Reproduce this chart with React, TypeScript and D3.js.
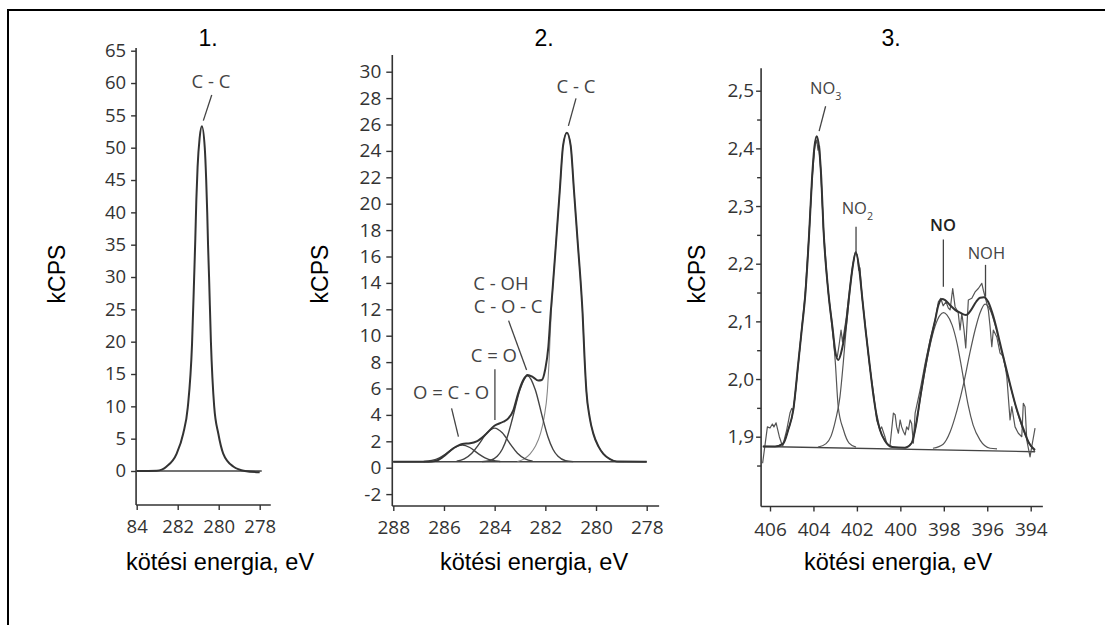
import { useEffect, useRef } from "react";
import * as d3 from "d3";

type Pt = [number, number];

// ---------- panel 1: single C-C peak ----------
const p1XTicks = [284, 282, 280, 278];
const p1XLabels = ["84", "282", "280", "278"];
const p1YTicks = [0, 5, 10, 15, 20, 25, 30, 35, 40, 45, 50, 55, 60, 65];
const p1XExtent = [284.03, 277.46];
const p1YExtent = [-5.26, 65.4];
const p1Baseline: Pt[] = [[284.0, 0], [277.9, 0]];
const p1CC: Pt[] = [
  [284.0, 0], [283.02, 0.05], [282.54, 0.7], [282.05, 2.7], [281.73, 5.8], [281.51, 9.8],
  [281.3, 19.7], [281.2, 29.7], [281.14, 36], [281.09, 42], [281.03, 47], [280.93, 51.5],
  [280.82, 53.3], [280.68, 50], [280.61, 45], [280.56, 40], [280.52, 35], [280.47, 30],
  [280.38, 20], [280.22, 10], [280.02, 5.8], [279.78, 2.7], [279.29, 0.7], [278.72, 0], [278.0, -0.2],
];

// ---------- panel 2: C 1s with four components ----------
const p2XTicks = [288, 286, 284, 282, 280, 278];
const p2YTicks = [-2, 0, 2, 4, 6, 8, 10, 12, 14, 16, 18, 20, 22, 24, 26, 28, 30];
const p2XExtent = [288.04, 277.51];
const p2YExtent = [-2.9, 31.27];
const p2Baseline: Pt[] = [[288.04, 0.45], [278.0, 0.45]];
const p2OCO: Pt[] = [
  [286.8, 0.47], [286.48, 0.55], [286.18, 0.75], [285.9, 1.08], [285.58, 1.53], [285.28, 1.72],
  [284.98, 1.53], [284.66, 1.08], [284.38, 0.75], [284.08, 0.55], [283.78, 0.47],
];
const p2CO: Pt[] = [
  [285.5, 0.5], [285.2, 0.67], [284.9, 1.09], [284.64, 1.73], [284.3, 2.64], [284.0, 3.0],
  [283.7, 2.64], [283.36, 1.73], [283.1, 1.09], [282.8, 0.67], [282.5, 0.5],
];
const p2COH: Pt[] = [
  [284.5, 0.46], [284.2, 0.53], [283.9, 0.86], [283.7, 1.4], [283.5, 2.35], [283.3, 3.71],
  [283.0, 5.93], [282.7, 6.97], [282.4, 5.93], [282.1, 3.71], [281.9, 2.35], [281.7, 1.4],
  [281.5, 0.86], [281.2, 0.53], [280.9, 0.46],
];
const p2CC: Pt[] = [
  [283.1, 0.47], [282.85, 0.65], [282.6, 1.05], [282.4, 1.6], [282.19, 2.6], [282.05, 3.8],
  [281.92, 5.8], [281.85, 8.2], [281.77, 11.7], [281.71, 13.6], [281.58, 17.0], [281.43, 21.0],
  [281.3, 24.4], [281.15, 25.38], [281.0, 24.4], [280.87, 21.0], [280.72, 17.0], [280.59, 13.6],
  [280.53, 11.7], [280.45, 8.2], [280.38, 5.8], [280.25, 3.8], [280.11, 2.6], [279.9, 1.6],
  [279.71, 1.05], [279.45, 0.65], [279.18, 0.47], [278.9, 0.45],
];
const p2Envelope: Pt[] = [
  [288.0, 0.45], [286.6, 0.45], [286.35, 0.5], [286.03, 0.83], [285.63, 1.47], [285.28, 1.8],
  [284.97, 1.85], [284.71, 2.0], [284.38, 2.48], [284.01, 3.18], [283.66, 3.48], [283.46, 3.74],
  [283.26, 4.37], [283.07, 5.64], [282.87, 6.64], [282.7, 7.02], [282.48, 6.85], [282.28, 6.6],
  [282.14, 6.64], [282.01, 7.4], [281.88, 9.17], [281.79, 11.7], [281.71, 13.6], [281.58, 17.0],
  [281.43, 21.0], [281.3, 24.4], [281.15, 25.38], [281.0, 24.4], [280.87, 21.0], [280.72, 17.0],
  [280.59, 13.6], [280.53, 11.7], [280.45, 8.2], [280.38, 5.8], [280.25, 3.8], [280.11, 2.6],
  [279.9, 1.6], [279.71, 1.05], [279.45, 0.65], [279.18, 0.47], [278.0, 0.45],
];

// ---------- panel 3: N 1s ----------
const p3XTicks = [406, 404, 402, 400, 398, 396, 394];
const p3YTicks = [1.9, 2.0, 2.1, 2.2, 2.3, 2.4, 2.5];
const p3YLabels = ["1,9", "2,0", "2,1", "2,2", "2,3", "2,4", "2,5"];
const p3YMinor = [1.85, 1.95, 2.05, 2.15, 2.25, 2.35, 2.45];
const p3XExtent = [406.41, 393.44];
const p3YExtent = [1.779, 2.539];
const p3Baseline: Pt[] = [[406.34, 1.883], [393.8, 1.874]];
const p3NO3: Pt[] = [
  [405.72, 1.883], [405.39, 1.889], [405.16, 1.912], [404.93, 1.946], [404.7, 2.027], [404.54, 2.085],
  [404.37, 2.149], [404.19, 2.258], [404.07, 2.345], [403.96, 2.397], [403.85, 2.42], [403.74, 2.397],
  [403.64, 2.345], [403.54, 2.258], [403.31, 2.149], [403.11, 2.085], [402.99, 2.027], [402.86, 1.952],
  [402.62, 1.912], [402.36, 1.889], [402.04, 1.882],
];
const p3NO2: Pt[] = [
  [403.79, 1.882], [403.42, 1.888], [403.19, 1.901], [402.98, 1.929], [402.78, 1.969], [402.63, 2.027],
  [402.5, 2.085], [402.35, 2.143], [402.2, 2.193], [402.05, 2.219], [401.9, 2.193], [401.76, 2.143],
  [401.6, 2.085], [401.42, 2.027], [401.23, 1.969], [401.1, 1.938], [400.94, 1.912], [400.71, 1.893],
  [400.34, 1.882],
];
const p3NO: Pt[] = [
  [399.78, 1.881], [399.48, 1.889], [399.28, 1.92], [399.09, 1.964], [398.86, 2.016], [398.63, 2.059],
  [398.4, 2.092], [398.17, 2.111], [398.01, 2.115], [397.85, 2.111], [397.62, 2.094], [397.39, 2.062],
  [397.21, 2.026], [397.07, 1.995], [396.88, 1.955], [396.65, 1.92], [396.33, 1.894], [395.87, 1.88],
  [395.55, 1.879],
];
const p3NOH: Pt[] = [
  [398.5, 1.88], [398.03, 1.887], [397.71, 1.908], [397.39, 1.946], [397.07, 1.995], [396.79, 2.047],
  [396.56, 2.085], [396.33, 2.115], [396.1, 2.13], [395.87, 2.12], [395.64, 2.094], [395.41, 2.059],
  [395.18, 2.023], [394.95, 1.99], [394.67, 1.95], [394.35, 1.912], [394.03, 1.886], [393.8, 1.874],
];
const p3Envelope: Pt[] = [
  [406.32, 1.883], [405.77, 1.883], [405.39, 1.888], [405.16, 1.912], [404.93, 1.946], [404.7, 2.027],
  [404.54, 2.085], [404.37, 2.149], [404.19, 2.258], [404.07, 2.345], [403.96, 2.401], [403.85, 2.421],
  [403.74, 2.401], [403.64, 2.349], [403.54, 2.262], [403.31, 2.149], [403.11, 2.085], [402.99, 2.047],
  [402.86, 2.033], [402.73, 2.045], [402.63, 2.062], [402.5, 2.094], [402.35, 2.147], [402.2, 2.193],
  [402.05, 2.22], [401.9, 2.193], [401.76, 2.143], [401.6, 2.085], [401.42, 2.027], [401.23, 1.969],
  [401.1, 1.938], [400.94, 1.912], [400.71, 1.893], [400.38, 1.882], [399.78, 1.881], [399.48, 1.889],
  [399.28, 1.92], [399.09, 1.967], [398.86, 2.019], [398.63, 2.064], [398.4, 2.102], [398.25, 2.128],
  [398.09, 2.139], [397.94, 2.137], [397.71, 2.128], [397.48, 2.12], [397.25, 2.115], [396.98, 2.111],
  [396.74, 2.12], [396.51, 2.134], [396.33, 2.141], [396.15, 2.142], [395.96, 2.134], [395.78, 2.116],
  [395.6, 2.092], [395.41, 2.062], [395.18, 2.026], [394.95, 1.991], [394.67, 1.951], [394.35, 1.915],
  [394.08, 1.889], [393.8, 1.877],
];
const p3Raw: Pt[] = [
  [406.34, 1.854], [406.12, 1.917], [406.0, 1.915], [405.89, 1.922], [405.82, 1.917], [405.72, 1.924],
  [405.57, 1.9], [405.42, 1.883], [405.23, 1.912], [405.08, 1.941], [405.0, 1.949], [404.93, 1.946],
  [404.85, 1.969], [404.7, 2.024], [404.54, 2.088], [404.39, 2.144], [404.2, 2.253], [404.07, 2.342],
  [403.94, 2.404], [403.85, 2.414], [403.79, 2.397], [403.72, 2.404], [403.64, 2.342], [403.53, 2.255],
  [403.33, 2.154], [403.15, 2.092], [403.01, 2.042], [402.9, 2.039], [402.82, 2.059], [402.73, 2.085],
  [402.66, 2.064], [402.49, 2.106], [402.35, 2.151], [402.2, 2.196], [402.07, 2.22], [401.98, 2.215],
  [401.92, 2.189], [401.86, 2.193], [401.76, 2.141], [401.6, 2.088], [401.42, 2.024], [401.23, 1.974],
  [401.09, 1.929], [400.94, 1.912], [400.86, 1.917], [400.71, 1.9], [400.63, 1.889], [400.48, 1.883],
  [400.32, 1.941], [400.24, 1.938], [400.17, 1.917], [400.09, 1.906], [400.01, 1.929], [399.94, 1.917],
  [399.86, 1.909], [399.78, 1.903], [399.71, 1.917], [399.63, 1.912], [399.55, 1.929], [399.48, 1.923],
  [399.4, 1.889], [399.32, 1.941], [399.09, 1.981], [398.86, 2.027], [398.63, 2.068], [398.4, 2.102],
  [398.25, 2.134], [398.14, 2.14], [398.03, 2.127], [397.9, 2.134], [397.79, 2.123], [397.71, 2.12],
  [397.59, 2.157], [397.48, 2.125], [397.34, 2.116], [397.25, 2.085], [397.17, 2.114], [397.07, 2.085],
  [396.99, 2.054], [396.87, 2.137], [396.71, 2.14], [396.56, 2.151], [396.41, 2.157], [396.25, 2.166],
  [396.18, 2.154], [396.06, 2.137], [395.95, 2.12], [395.87, 2.091], [395.79, 2.056], [395.72, 2.085],
  [395.56, 2.073], [395.41, 2.045], [395.26, 2.039], [395.18, 2.023], [395.1, 2.004], [394.95, 1.929],
  [394.87, 1.952], [394.72, 1.917], [394.57, 1.906], [394.41, 1.9], [394.34, 1.958], [394.26, 1.952],
  [394.18, 1.894], [394.03, 1.865], [393.95, 1.883], [393.8, 1.915],
];

// peak annotations, anchored in data units
type Note = { text: string; sub?: string; strong?: boolean; at: Pt; leader: Pt[] };
const p1Notes: Note[] = [
  { text: "C - C", at: [280.38, 59.19], leader: [[280.34, 58.15], [280.75, 54.18]] },
];
const p2Notes: Note[] = [
  { text: "C - C", at: [280.79, 28.36], leader: [[280.79, 27.98], [281.09, 25.89]] },
  { text: "C - OH", at: [283.75, 13.46], leader: [] },
  { text: "C - O - C", at: [283.47, 11.7], leader: [[283.45, 11.14], [282.74, 7.4]] },
  { text: "C = O", at: [284.03, 8.03], leader: [[283.99, 7.45], [283.99, 3.61]] },
  { text: "O = C - O", at: [285.72, 5.2], leader: [[285.7, 4.5], [285.43, 2.35]] },
];
const p3Notes: Note[] = [
  { text: "NO", sub: "3", at: [404.16, 2.495], leader: [[403.44, 2.473], [403.74, 2.43]] },
  { text: "NO", sub: "2", at: [402.7, 2.287], leader: [[402.04, 2.264], [402.04, 2.218]] },
  { text: "NO", strong: true, at: [398.63, 2.257], leader: [[398.02, 2.242], [398.02, 2.16]] },
  { text: "NOH", at: [396.9, 2.209], leader: [[396.08, 2.198], [396.08, 2.143]] },
];

const TICK_FONT = "'Open Sans', 'Noto Sans', sans-serif";
const LABEL_FONT = "Arial, 'Liberation Sans', sans-serif";
const INK = "#333";

type Scale = d3.ScaleLinear<number, number>;

export default function App() {
  const svgRef = useRef<SVGSVGElement>(null);

  useEffect(() => {
    const svg = d3.select(svgRef.current!);
    svg.selectAll("*").remove();

    // page frame (left and top edges)
    svg.append("path").attr("d", "M8,625V10H1105").attr("fill", "none").attr("stroke", "#000").attr("stroke-width", 2);

    const axes = (
      x: Scale, y: Scale, xExt: number[], yExt: number[],
      xTicks: number[], xLabels: string[], yTicks: number[], yLabels: string[],
      o: { ySize: number; yPad: number; xSize: number; xBase: number; fs: number; minor?: number[] }
    ) => {
      const g = svg.append("g").attr("color", INK);
      const x0 = x(xExt[0]);
      const y0 = y(yExt[0]);
      const ya = d3.axisLeft(y).tickValues(yTicks).tickSize(o.ySize).tickPadding(o.yPad)
        .tickFormat((_d, i) => yLabels[i]);
      const gy = g.append("g").attr("transform", `translate(${x0},0)`).call(ya);
      gy.select(".domain").remove();
      if (o.minor) {
        const gm = g.append("g").attr("transform", `translate(${x0},0)`)
          .call(d3.axisLeft(y).tickValues(o.minor).tickSize(4).tickFormat(() => ""));
        gm.select(".domain").remove();
      }
      const xa = d3.axisBottom(x).tickValues(xTicks).tickSize(o.xSize).tickFormat((_d, i) => xLabels[i]);
      const gx = g.append("g").attr("transform", `translate(0,${y0})`).call(xa);
      gx.select(".domain").remove();
      gx.selectAll("text").attr("y", o.xBase).attr("dy", null);
      g.selectAll(".tick line").attr("stroke-width", 1.4);
      g.selectAll("text").attr("font-family", TICK_FONT).attr("font-size", o.fs).attr("fill", INK);
      g.append("line").attr("x1", x0).attr("x2", x0).attr("y1", y(yExt[0])).attr("y2", y(yExt[1]))
        .attr("stroke", INK).attr("stroke-width", 1.6);
      g.append("line").attr("x1", x0).attr("x2", x(xExt[1])).attr("y1", y0).attr("y2", y0)
        .attr("stroke", INK).attr("stroke-width", 1.6);
    };

    const curve = (x: Scale, y: Scale, pts: Pt[], color: string, w: number, smooth = true) => {
      const line = d3.line<Pt>().x((d) => x(d[0])).y((d) => y(d[1]))
        .curve(smooth ? d3.curveMonotoneX : d3.curveLinear);
      svg.append("path").attr("d", line(pts)).attr("fill", "none").attr("stroke", color)
        .attr("stroke-width", w).attr("stroke-linejoin", "round");
    };

    const notes = (x: Scale, y: Scale, list: Note[], fs: number, anchor: string) => {
      list.forEach((n) => {
        if (n.leader.length) {
          svg.append("line").attr("x1", x(n.leader[0][0])).attr("y1", y(n.leader[0][1]))
            .attr("x2", x(n.leader[1][0])).attr("y2", y(n.leader[1][1]))
            .attr("stroke", "#444").attr("stroke-width", 1.3);
        }
        const t = svg.append("text").attr("x", x(n.at[0])).attr("y", y(n.at[1]))
          .attr("text-anchor", anchor).attr("font-family", TICK_FONT).attr("font-size", fs)
          .attr("font-weight", n.strong ? 600 : 400)
          .attr("fill", n.strong ? "#222" : "#444").text(n.text);
        if (n.sub) t.append("tspan").attr("font-size", fs * 0.65).attr("dy", 6).text(n.sub);
      });
    };

    const labels = (title: string, tx: number, kx: number, ex: number) => {
      svg.append("text").attr("x", tx).attr("y", 46).attr("text-anchor", "middle")
        .attr("font-family", LABEL_FONT).attr("font-size", 23).text(title);
      svg.append("text").attr("transform", `translate(${kx},274) rotate(-90)`).attr("text-anchor", "middle")
        .attr("font-family", LABEL_FONT).attr("font-size", 23).text("kCPS");
      svg.append("text").attr("x", ex).attr("y", 570).attr("text-anchor", "middle")
        .attr("font-family", LABEL_FONT).attr("font-size", 23.5).text("kötési energia, eV");
    };

    // panel 1
    const x1 = d3.scaleLinear().domain([284, 278]).range([136.7, 259.7]);
    const y1 = d3.scaleLinear().domain([0, 65]).range([471, 50.7]);
    axes(x1, y1, p1XExtent, p1YExtent, p1XTicks, p1XLabels, p1YTicks, p1YTicks.map(String),
      { ySize: 5, yPad: 5, xSize: 5, xBase: 27.7, fs: 18.5 });
    curve(x1, y1, p1Baseline, "#444", 1.4, false);
    curve(x1, y1, p1CC, "#333", 2);
    notes(x1, y1, p1Notes, 18.5, "middle");
    labels("1.", 208, 65, 220);

    // panel 2
    const x2 = d3.scaleLinear().domain([288, 278]).range([393.3, 646.7]);
    const y2 = d3.scaleLinear().domain([0, 30]).range([467.7, 71.7]);
    axes(x2, y2, p2XExtent, p2YExtent, p2XTicks, p2XTicks.map(String), p2YTicks, p2YTicks.map(String),
      { ySize: 6, yPad: 5, xSize: 5, xBase: 28, fs: 19 });
    curve(x2, y2, p2Baseline, "#444", 1.4, false);
    curve(x2, y2, p2CC, "#888", 1.1);
    curve(x2, y2, p2OCO, "#444", 1.4);
    curve(x2, y2, p2CO, "#444", 1.4);
    curve(x2, y2, p2COH, "#444", 1.4);
    curve(x2, y2, p2Envelope, "#333", 2);
    notes(x2, y2, p2Notes, 18.5, "middle");
    labels("2.", 544, 328, 534);

    // panel 3
    const x3 = d3.scaleLinear().domain([406, 394]).range([770, 1030.7]);
    const y3 = d3.scaleLinear().domain([1.9, 2.5]).range([436.7, 90.7]);
    axes(x3, y3, p3XExtent, p3YExtent, p3XTicks, p3XTicks.map(String), p3YTicks, p3YLabels,
      { ySize: 5, yPad: 2, xSize: 5, xBase: 30, fs: 19, minor: p3YMinor });
    curve(x3, y3, p3Baseline, "#444", 1.4, false);
    [p3NO3, p3NO2, p3NO, p3NOH].forEach((c) => curve(x3, y3, c, "#555", 1.2));
    curve(x3, y3, p3Raw, "#555", 1.2, false);
    curve(x3, y3, p3Envelope, "#333", 2);
    notes(x3, y3, p3Notes, 16.5, "start");
    labels("3.", 891, 705, 898);
  }, []);

  return (
    <svg
      ref={svgRef}
      width={1105}
      height={625}
      style={{ position: "absolute", left: 0, top: 0, background: "#fff" }}
    />
  );
}
